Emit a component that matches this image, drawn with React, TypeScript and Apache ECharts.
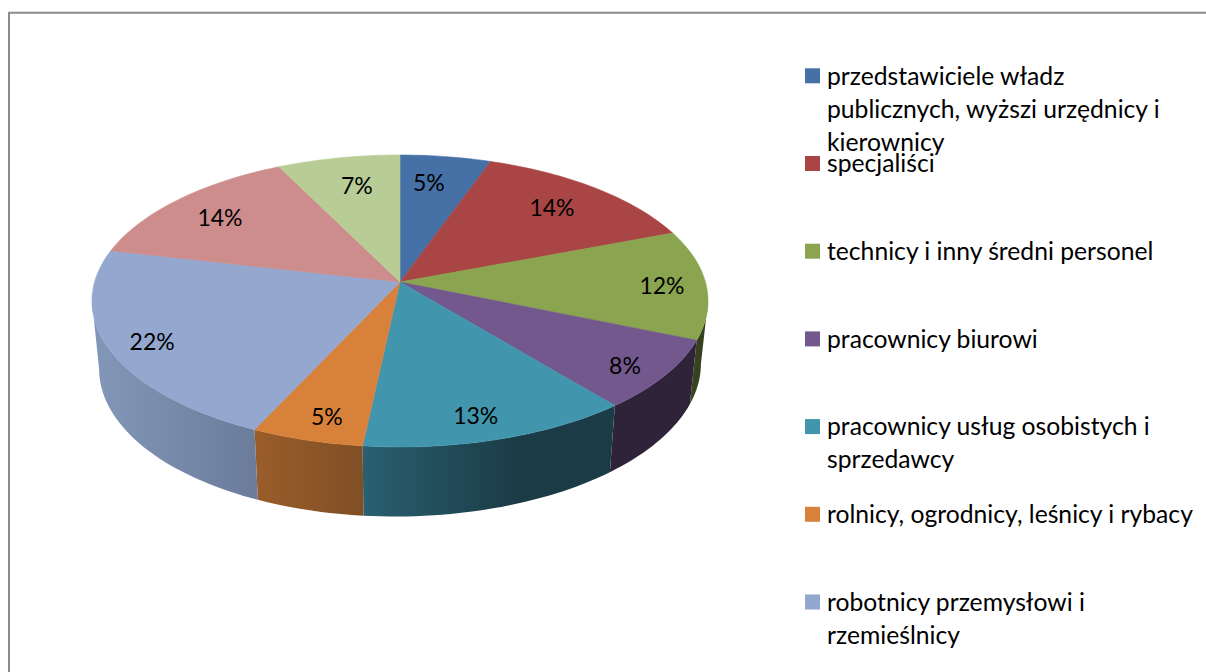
import React, { useEffect, useRef } from "react";
import * as echarts from "echarts";

// Data
const categories = [
  "przedstawiciele władz\npublicznych, wyższi urzędnicy i\nkierownicy",
  "specjaliści",
  "technicy i inny średni personel",
  "pracownicy biurowi",
  "pracownicy usług osobistych i\nsprzedawcy",
  "rolnicy, ogrodnicy, leśnicy i rybacy",
  "robotnicy przemysłowi i\nrzemieślnicy",
];
const shares = [5.4, 13.8, 12.1, 7.8, 12.6, 5.2, 21.7, 14.1, 7.3];

// Styles
const topColors = ["#4571A6", "#A94645", "#8AA44F", "#72588D", "#4196AE", "#D8813B", "#93A7CF", "#CD8D8C", "#B8CC95"];
const sideStops = [
  ["#2C4668", "#2C4668"],
  ["#6A2B2B", "#6A2B2B"],
  ["#3B4522", "#333C1E"],
  ["#2E2339", "#2E2339"],
  ["#2A6070", "#1B3C47"],
  ["#9A5D2A", "#804F25"],
  ["#8397B8", "#6A7C9A"],
  ["#805756", "#805756"],
  ["#74805E", "#74805E"],
];
const sideStopEnd = [1, 1, 1, 1, 0.6, 1, 1, 1, 1];
const labelRadius = [0.765, 0.768, 0.855, 0.874, 0.862, 0.865, 0.866, 0.785, 0.749];
const labelTurn = [-1.9, -0.3, 1, 1.7, 1.7, -1.2, -1.2, -1.2, 1.2];
const FONT = "Lato";
const LABEL_SIZE = 23;
const LEGEND_SIZE = 24.7;

// Projection of the tilted disc
const CX = 400, CY = 282, A = 143.5, B = 305.4, K = 0.13;
// Angles at which the rim meets the silhouette of the disc
const RIM_FROM = 97.5, RIM_TO = 262.5;
const project = (deg: number, r = 1) => {
  const t = (deg * Math.PI) / 180;
  const u = r * Math.sin(t), v = r * Math.cos(t);
  const w = 1 + K * v;
  return [(B * u) / w, (A * v) / w];
};
const topPoint = (deg: number, r = 1) => {
  const [dx, dy] = project(deg, r);
  return [CX + dx, CY - dy];
};
const bottomPoint = (deg: number) => {
  const [dx, dy] = project(deg);
  return [CX + 0.977 * dx, 346.6 - 1.03 * dy - 0.008 * dx];
};

const total = shares.reduce((a, b) => a + b, 0);
const angleBefore = (i: number) => (shares.slice(0, i).reduce((a, b) => a + b, 0) / total) * 360;

const arc = (from: number, to: number, fn: (d: number) => number[]) => {
  const n = Math.max(4, Math.ceil((to - from) / 1.5));
  const pts: number[][] = [];
  for (let j = 0; j <= n; j++) pts.push(fn(from + ((to - from) * j) / n));
  return pts;
};

const option = () => ({
  animation: false,
  backgroundColor: "#ffffff",
  series: [
    {
      type: "custom",
      coordinateSystem: "none",
      silent: true,
      z: 1,
      data: shares,
      renderItem: (params: any) => {
        const i = params.dataIndex;
        const a0 = Math.max(angleBefore(i), RIM_FROM);
        const a1 = Math.min(angleBefore(i + 1), RIM_TO);
        if (a1 <= a0) return { type: "group", children: [] };
        const pts = [...arc(a0, a1, (d) => topPoint(d)), ...arc(a0, a1, bottomPoint).reverse()];
        const [c0, c1] = sideStops[i];
        return {
          type: "polygon",
          shape: { points: pts },
          style: {
            fill: new echarts.graphic.LinearGradient(0, 0, 1, 0, [
              { offset: 0, color: c0 },
              { offset: sideStopEnd[i], color: c1 },
              { offset: 1, color: c1 },
            ]),
          },
        };
      },
    },
    {
      type: "custom",
      coordinateSystem: "none",
      silent: true,
      z: 2,
      data: shares,
      renderItem: (params: any, api: any) => {
        const i = params.dataIndex;
        const a0 = angleBefore(i), a1 = angleBefore(i + 1);
        const pts = [[CX, CY], ...arc(a0, a1, (d) => topPoint(d))];
        const [lx, ly] = topPoint((a0 + a1) / 2 + labelTurn[i], labelRadius[i]);
        return {
          type: "group",
          children: [
            {
              type: "polygon",
              shape: { points: pts },
              style: { fill: topColors[i], stroke: topColors[i], lineWidth: 0.6 },
            },
            {
              type: "text",
              z2: 10,
              style: {
                text: `${Math.round(api.value(0))}%`,
                x: lx,
                y: ly - 1,
                align: "center",
                verticalAlign: "middle",
                fill: "#000000",
                fontFamily: FONT,
                fontSize: LABEL_SIZE,
              },
            },
          ],
        };
      },
    },
  ],
  graphic: [
    {
      type: "polyline",
      silent: true,
      shape: { points: [[9, 690], [9, 12.8], [1220, 12.8]] },
      style: { fill: "none", stroke: "#8C8C8C", lineWidth: 2 },
    },
    ...categories.flatMap((name, i) => [
      {
        type: "rect",
        silent: true,
        shape: { x: 805, y: 68.3 + 87.7 * i, width: 15, height: 15 },
        style: { fill: topColors[i] },
      },
      {
        type: "text",
        silent: true,
        style: {
          text: name,
          x: 827,
          y: 58.5 + 87.7 * i,
          fill: "#000000",
          fontFamily: FONT,
          fontSize: LEGEND_SIZE,
          lineHeight: 33,
          align: "left",
          verticalAlign: "top",
        },
      },
    ]),
  ],
});

export default function App() {
  const ref = useRef<HTMLDivElement>(null);
  useEffect(() => {
    document.body.style.margin = "0";
    const chart = echarts.init(ref.current!, null, { renderer: "svg" });
    chart.setOption(option() as any);
    return () => chart.dispose();
  }, []);
  return <div ref={ref} style={{ width: 1206, height: 672, overflow: "hidden" }} />;
}
